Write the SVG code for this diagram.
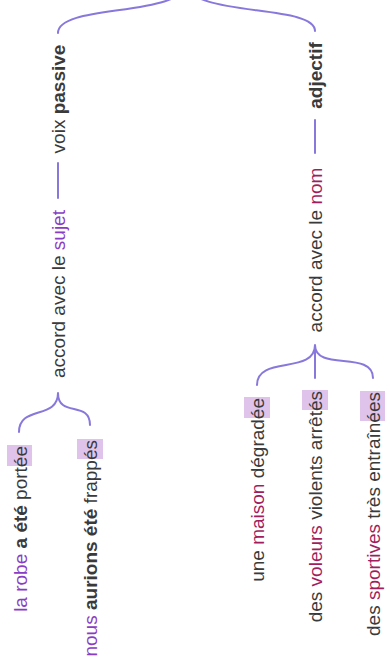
<svg xmlns="http://www.w3.org/2000/svg" width="390" height="664" viewBox="0 0 390 664">
<style>
  .t { font-family: "Liberation Sans", Arial, sans-serif; font-size: 19px; fill: #3a3a3a; }
  .b { font-weight: bold; }
  .p { fill: #8b3cc4; }
  .m { fill: #a11d5e; }
  .c { fill: none; stroke: #8878dc; stroke-width: 2; stroke-linecap: round; }
  .hl { fill: #dfc3ea; }
</style>
<rect width="390" height="664" fill="#ffffff"/>
<g id="connectors">
  <path class="c" d="M58,33 C58,3 186,18 186,-18 M315,31 C315,3 186,18 186,-18"/>
  <line class="c" x1="58" y1="163" x2="58" y2="198"/>
  <line class="c" x1="315" y1="120" x2="315" y2="153"/>
  <path class="c" d="M19,432 C19,405 58,420 58,393 M90,425 C90,400 58,418 58,393"/>
  <path class="c" d="M257,385 C257,355 315,375 315,345 M373,378 C373,350 315,372 315,345 M315,345 L315,378"/>
</g>
<g id="voix-passive">
  <text class="t" text-anchor="middle" transform="translate(65,99) rotate(-90)">voix <tspan class="b">passive</tspan></text>
</g>
<g id="accord-sujet">
  <text class="t" text-anchor="middle" transform="translate(65,294) rotate(-90)">accord avec le <tspan class="p">sujet</tspan></text>
</g>
<g id="adjectif">
  <text class="t b" text-anchor="middle" transform="translate(322,75.5) rotate(-90)">adjectif</text>
</g>
<g id="accord-nom">
  <text class="t" text-anchor="middle" transform="translate(322,250) rotate(-90)">accord avec le <tspan class="m">nom</tspan></text>
</g>
<g id="leaf-robe">
  <rect class="hl" x="7" y="445" width="25" height="21"/>
  <text class="t" text-anchor="end" transform="translate(26.5,446) rotate(-90)"><tspan class="p">la robe</tspan> <tspan class="b">a été</tspan> portée</text>
</g>
<g id="leaf-nous">
  <rect class="hl" x="77" y="439" width="26" height="20"/>
  <text class="t" text-anchor="end" transform="translate(97,440) rotate(-90)"><tspan class="p">nous</tspan> <tspan class="b">aurions été</tspan> frappés</text>
</g>
<g id="leaf-maison">
  <rect class="hl" x="244" y="397" width="26" height="21"/>
  <text class="t" text-anchor="end" transform="translate(264,398) rotate(-90)">une <tspan class="m">maison</tspan> dégradée</text>
</g>
<g id="leaf-voleurs">
  <rect class="hl" x="302" y="390" width="26" height="20"/>
  <text class="t" text-anchor="end" transform="translate(322,391) rotate(-90)">des <tspan class="m">voleurs</tspan> violents arrêtés</text>
</g>
<g id="leaf-sportives">
  <rect class="hl" x="360" y="391" width="25" height="30"/>
  <text class="t" text-anchor="end" transform="translate(380,392) rotate(-90)">des <tspan class="m">sportives</tspan> très entraînées</text>
</g>
</svg>
